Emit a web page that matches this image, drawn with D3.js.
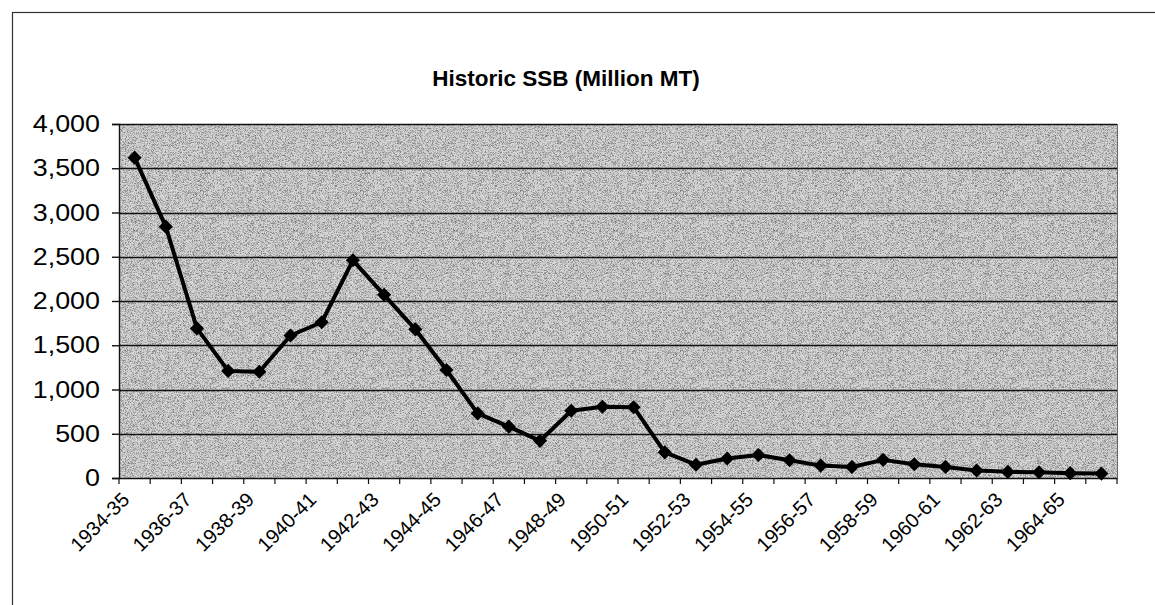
<!DOCTYPE html>
<html>
<head>
<meta charset="utf-8">
<script src="https://cdn.jsdelivr.net/npm/d3@7"></script>
<style>
body { margin: 0; background: #fff; }
svg { display: block; }
text { font-family: "Liberation Sans", Arial, sans-serif; fill: #000; }
</style>
</head>
<body>
<svg id="chart" width="1155" height="605"></svg>
<script>
// season labels, one per point
var seasons = ["1934-35","1935-36","1936-37","1937-38","1938-39","1939-40","1940-41","1941-42",
	"1942-43","1943-44","1944-45","1945-46","1946-47","1947-48","1948-49","1949-50",
	"1950-51","1951-52","1952-53","1953-54","1954-55","1955-56","1956-57","1957-58",
	"1958-59","1959-60","1960-61","1961-62","1962-63","1963-64","1964-65","1965-66"];

// spawning stock biomass
var ssb = [3620, 2840, 1690, 1210, 1200, 1610, 1760, 2460,
	2070, 1680, 1220, 730, 580, 420, 760, 805,
	800, 290, 150, 220, 260, 200, 140, 125,
	205, 155, 125, 85, 70, 65, 55, 50];

var yTicks = [0, 500, 1000, 1500, 2000, 2500, 3000, 3500, 4000];
var labelEvery = 2;
var chartTitle = "Historic SSB (Million MT)";

var width = 1155,
	height = 605,
	plotLeft = 119,
	plotRight = 1117,
	plotTop = 124,
	plotBottom = 478;

var svg = d3.select("#chart");

// speckle for the scanned grey background
var defs = svg.append("defs");
var grain = defs.append("filter").attr("id", "grain")
	.attr("x", 0).attr("y", 0).attr("width", "100%").attr("height", "100%");
grain.append("feTurbulence")
	.attr("type", "fractalNoise")
	.attr("baseFrequency", 1.6)
	.attr("numOctaves", 1)
	.attr("seed", 7)
	.attr("result", "noise");
grain.append("feColorMatrix")
	.attr("in", "noise")
	.attr("type", "matrix")
	.attr("values", "0 0 0 0 0  0 0 0 0 0  0 0 0 0 0  -3.5 0 0 0 2");

// chart frame
svg.append("rect")
	.attr("x", 12.5).attr("y", 12.5)
	.attr("width", width).attr("height", height)
	.attr("fill", "none")
	.attr("stroke", "#333")
	.attr("stroke-width", 1.2);

svg.append("text")
	.attr("x", 566)
	.attr("y", 86)
	.attr("text-anchor", "middle")
	.attr("font-size", "22.5px")
	.attr("font-weight", "bold")
	.text(chartTitle);

var x = d3.scaleBand()
	.domain(seasons)
	.range([plotLeft, plotRight])
	.padding(0);

var y = d3.scaleLinear()
	.domain([0, 4000])
	.range([plotBottom, plotTop]);

var plot = svg.append("g");

plot.append("rect")
	.attr("x", plotLeft).attr("y", plotTop)
	.attr("width", plotRight - plotLeft)
	.attr("height", plotBottom - plotTop)
	.attr("fill", "#d6d6d6");

plot.append("rect")
	.attr("x", plotLeft).attr("y", plotTop)
	.attr("width", plotRight - plotLeft)
	.attr("height", plotBottom - plotTop)
	.attr("fill", "#000")
	.attr("filter", "url(#grain)")
	.attr("opacity", 0.4);

// horizontal gridlines
plot.selectAll(".grid").data(yTicks.filter(function(d){ return d > 0; })).enter()
	.append("line")
	.attr("class", "grid")
	.attr("x1", plotLeft).attr("x2", plotRight)
	.attr("y1", function(d){ return Math.round(y(d)) + 0.5; })
	.attr("y2", function(d){ return Math.round(y(d)) + 0.5; })
	.attr("stroke", "#111")
	.attr("stroke-width", 1.3);

// right edge of plot
plot.append("line")
	.attr("x1", plotRight + 0.5).attr("x2", plotRight + 0.5)
	.attr("y1", plotTop).attr("y2", plotBottom)
	.attr("stroke", "#666")
	.attr("stroke-width", 1);

var yAxis = svg.append("g")
	.attr("transform", "translate(" + plotLeft + ",0)")
	.call(d3.axisLeft(y)
		.tickValues(yTicks)
		.tickFormat(d3.format(","))
		.tickSize(7)
		.tickPadding(11));
// the scanned labels are a little wider than plain Arial
yAxis.selectAll("text")
	.attr("font-size", "24px")
	.attr("font-family", null)
	.attr("x", 0)
	.attr("transform", "translate(-19,0) scale(1.12,1)");
yAxis.selectAll("line,path").attr("stroke", "#111").attr("stroke-width", 1.4);

var xAxis = svg.append("g")
	.attr("transform", "translate(0," + plotBottom + ")")
	.call(d3.axisBottom(x).tickSize(0).tickFormat(""));
xAxis.select("path").attr("stroke", "#111").attr("stroke-width", 1.6);

// ticks sit on category boundaries
xAxis.selectAll(".bound").data(seasons.concat(["end"])).enter()
	.append("line")
	.attr("class", "bound")
	.attr("x1", function(d, i){ return plotLeft + i * x.bandwidth(); })
	.attr("x2", function(d, i){ return plotLeft + i * x.bandwidth(); })
	.attr("y1", 0).attr("y2", 6)
	.attr("stroke", "#111")
	.attr("stroke-width", 1.2);

xAxis.selectAll(".season").data(seasons.filter(function(d, i){ return i % labelEvery == 0; })).enter()
	.append("text")
	.attr("class", "season")
	.attr("text-anchor", "end")
	.attr("font-size", "20px")
	.attr("transform", function(d){
		var cx = x(d) + x.bandwidth() / 2;
		return "translate(" + (cx - 9) + ",18) rotate(-45)";
	})
	.attr("dy", "0.35em")
	.text(function(d){ return d; });

var line = d3.line()
	.x(function(d, i){ return x(seasons[i]) + x.bandwidth() / 2; })
	.y(function(d){ return y(d); });

svg.append("path")
	.datum(ssb)
	.attr("d", line)
	.attr("fill", "none")
	.attr("stroke", "#000")
	.attr("stroke-width", 4)
	.attr("stroke-linejoin", "round");

svg.selectAll(".marker").data(ssb).enter()
	.append("path")
	.attr("class", "marker")
	.attr("d", d3.symbol().type(d3.symbolSquare).size(100))
	.attr("transform", function(d, i){
		return "translate(" + (x(seasons[i]) + x.bandwidth() / 2) + "," + y(d) + ") rotate(45)";
	})
	.attr("fill", "#000");
</script>
</body>
</html>
